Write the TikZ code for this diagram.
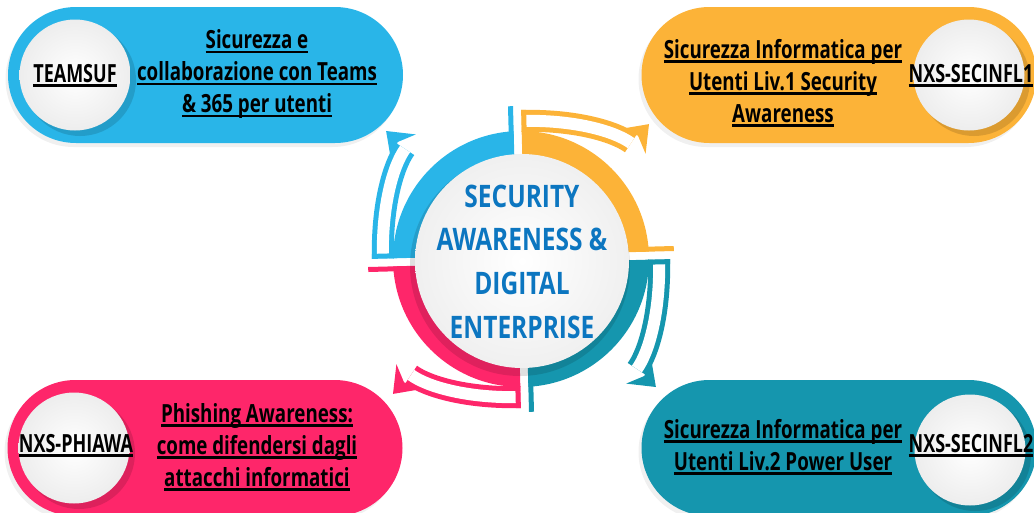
\documentclass[tikz,border=0pt]{standalone}
\usepackage{fontspec}
\setmainfont[FakeStretch=0.72]{Open Sans}
\newfontfamily\descfont[FakeStretch=0.75]{Open Sans}
\newfontfamily\hubfont[FakeStretch=0.79]{Open Sans}
\usetikzlibrary{shapes.misc}
\definecolor{cblue}{RGB}{41,181,232}
\definecolor{corange}{RGB}{252,179,56}
\definecolor{cpink}{RGB}{254,38,106}
\definecolor{cteal}{RGB}{21,150,174}
\definecolor{ctitle}{RGB}{12,118,192}
\newcommand{\ulx}[1]{\setbox0\hbox{#1}\rlap{\rule[-4.5pt]{\wd0}{2.4pt}}\box0}
\tikzset{
  pill/.style={rounded rectangle, minimum width=395pt, minimum height=136pt, inner sep=0pt, draw=none},
  pillshadow/.style={rounded rectangle, minimum width=395pt, minimum height=136pt, inner sep=0pt, fill=black, opacity=0.06},
  disc/.style={circle, minimum size=111pt, inner sep=0pt, shading=radial, inner color=white, outer color=black!7},
  desc/.style={font=\descfont\fontsize{25}{32}\selectfont\bfseries, align=center, text=black, inner sep=0pt},
  code/.style={font=\fontsize{25}{32}\selectfont\bfseries, text=black, inner sep=0pt, anchor=base},
  hubtext/.style={font=\hubfont\fontsize{31}{43.7}\selectfont\bfseries, align=center, text=ctitle, inner sep=0pt},
}
\begin{document}
\begin{tikzpicture}[x=1pt, y=-1pt]
\useasboundingbox (0,0) rectangle (1034,512);
\clip (0,0) rectangle (1034,512);
% pill shadows
\node[pillshadow] (s1) at (203,79) {};
\node[pillshadow] (s2) at (836,79) {};
\node[pillshadow] (s3) at (202,452) {};
\node[pillshadow] (s4) at (836,452) {};
% pills
\node[pill, fill=cblue]   (p1) at (205.5,75) {};
\node[pill, fill=corange] (p2) at (839,75) {};
\node[pill, fill=cpink]   (p3) at (205,448) {};
\node[pill, fill=cteal]   (p4) at (839,448) {};
% shadows of discs
\fill[black, opacity=0.13] (80,80) circle[radius=56];
\fill[black, opacity=0.13] (974,80) circle[radius=56];
\fill[black, opacity=0.13] (79,453) circle[radius=56];
\fill[black, opacity=0.13] (975,455) circle[radius=56];
\node[disc] (c1) at (75,75) {};
\node[disc] (c2) at (969,75) {};
\node[disc] (c3) at (74,448) {};
\node[disc] (c4) at (970,450) {};
% ring
\begin{scope}[shift={(521,259)}, yscale=-1]
  \foreach \ang/\col in {-1.5/corange, 88.5/cteal, 178.5/cpink, 268.5/cblue} {
    \begin{scope}[rotate=\ang]
      \begin{scope}
        \clip (4,4) rectangle (170,170);
        \fill[\col, even odd rule] (0,0) circle[radius=128] (0,0) circle[radius=95];
      \end{scope}
      \fill[\col] (118,4) rectangle (153,9);
      \draw[\col, line width=22pt, line join=miter] (4,138) .. controls (55,138) and (96,126) .. (113,113);
      \draw[white, line width=12pt] (4,138) .. controls (55,138) and (96,126) .. (113,113);
      \fill[\col] (4,127) rectangle (9,149);
      \fill[\col] (131.5,131.5) -- (101.9,127.3) -- (120.2,120.2) -- (127.3,101.9) -- cycle;
    \end{scope}
  }
\end{scope}
% hub
\fill[black, opacity=0.12] (520,266) circle[radius=110];
\node[circle, minimum size=214pt, inner sep=0pt, shading=radial, inner color=white, outer color=black!6] (hub) at (522,261) {};
\node[hubtext] (title) at (522,261.5) {SECURITY\\AWARENESS \&\\DIGITAL\\ENTERPRISE};
% texts
\node[code] (k1) at (75,82) {\ulx{TEAMSUF}};
\node[code] (k2) at (971,82) {\ulx{NXS-SECINFL1}};
\node[code] (k3) at (76,452) {\ulx{NXS-PHIAWA}};
\node[code] (k4) at (971,452) {\ulx{NXS-SECINFL2}};
\node[desc] (d1) at (257,74) {\ulx{Sicurezza e}\\\ulx{collaborazione con Teams}\\\ulx{\& 365 per utenti}};
\node[desc] (d2) at (783,83) {\ulx{Sicurezza Informatica per}\\\ulx{Utenti Liv.1 Security}\\\ulx{Awareness}};
\node[desc] (d3) at (257,447) {\ulx{Phishing Awareness:}\\\ulx{come difendersi dagli}\\\ulx{attacchi informatici}};
\node[desc] (d4) at (783,447) {\ulx{Sicurezza Informatica per}\\\ulx{Utenti Liv.2 Power User}};
\end{tikzpicture}
\end{document}
